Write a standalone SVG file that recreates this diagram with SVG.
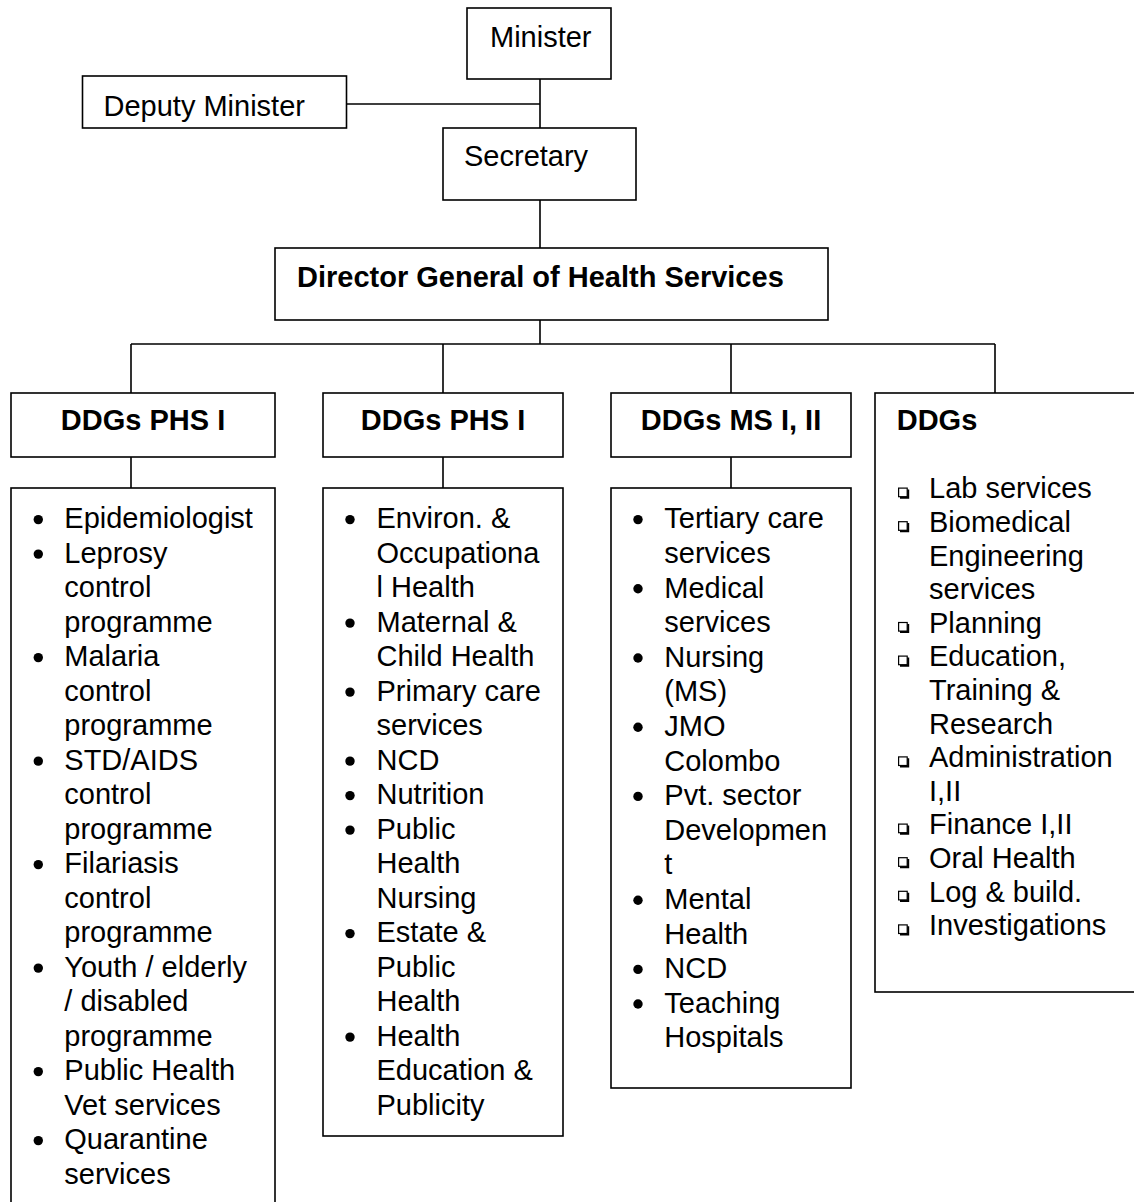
<svg xmlns="http://www.w3.org/2000/svg" xmlns:xlink="http://www.w3.org/1999/xlink" width="1134" height="1202" viewBox="0 0 1134 1202">
<style>
.box{fill:#fff;stroke:#000;stroke-width:1.6}
.conn{fill:none;stroke:#000;stroke-width:1.6}
.t{font-family:"Liberation Sans",Arial,sans-serif;font-size:29px;fill:#000}
.b{font-weight:bold}
</style>
<defs>
<circle id="dot" cx="0" cy="0" r="4.7" fill="#000"/>
<g id="sq"><rect x="0.6" y="0.6" width="8.6" height="8.6" fill="#fff" stroke="#000" stroke-width="1.2"/><polyline points="2,10.2 10.2,10.2 10.2,2" fill="none" stroke="#000" stroke-width="2"/></g>
</defs>
<rect width="1134" height="1202" fill="#fff"/>
<g id="connectors">
<path class="conn" d="M346 104H540M540 79V128M540 200V248M540 320V344M131 344H995M131 344V393M443 344V393M731 344V393M995 344V393M131 457V488M443 457V488M731 457V488"/>
</g>
<g id="minister"><rect class="box" x="467" y="8" width="144" height="71"/><text class="t" x="490" y="46.5">Minister</text></g>
<g id="deputy-minister"><rect class="box" x="82.5" y="76" width="264" height="52"/><text class="t" x="103.5" y="116">Deputy Minister</text></g>
<g id="secretary"><rect class="box" x="443" y="128" width="193" height="72"/><text class="t" x="464" y="166">Secretary</text></g>
<g id="dghs"><rect class="box" x="275" y="248" width="553" height="72"/><text class="t b" x="297" y="286.7">Director General of Health Services</text></g>
<g id="ddg1"><rect class="box" x="11" y="393" width="264" height="64"/><text class="t b" x="143" y="430" text-anchor="middle">DDGs PHS I</text></g>
<g id="ddg2"><rect class="box" x="323" y="393" width="240" height="64"/><text class="t b" x="443" y="430" text-anchor="middle">DDGs PHS I</text></g>
<g id="ddg3"><rect class="box" x="611" y="393" width="240" height="64"/><text class="t b" x="731" y="430" text-anchor="middle">DDGs MS I, II</text></g>
<g id="list1">
<rect class="box" x="11" y="488" width="264" height="740"/>
<use href="#dot" x="38.3" y="519.6"/><use href="#dot" x="38.3" y="554.1"/><use href="#dot" x="38.3" y="657.6"/><use href="#dot" x="38.3" y="761.1"/><use href="#dot" x="38.3" y="864.6"/><use href="#dot" x="38.3" y="968.1"/><use href="#dot" x="38.3" y="1071.6"/><use href="#dot" x="38.3" y="1140.6"/>
<text class="t">
<tspan x="64.3" y="528.3">Epidemiologist</tspan>
<tspan x="64.3" y="562.8">Leprosy</tspan>
<tspan x="64.3" y="597.3">control</tspan>
<tspan x="64.3" y="631.8">programme</tspan>
<tspan x="64.3" y="666.3">Malaria</tspan>
<tspan x="64.3" y="700.8">control</tspan>
<tspan x="64.3" y="735.3">programme</tspan>
<tspan x="64.3" y="769.8">STD/AIDS</tspan>
<tspan x="64.3" y="804.3">control</tspan>
<tspan x="64.3" y="838.8">programme</tspan>
<tspan x="64.3" y="873.3">Filariasis</tspan>
<tspan x="64.3" y="907.8">control</tspan>
<tspan x="64.3" y="942.3">programme</tspan>
<tspan x="64.3" y="976.8">Youth / elderly</tspan>
<tspan x="64.3" y="1011.3">/ disabled</tspan>
<tspan x="64.3" y="1045.8">programme</tspan>
<tspan x="64.3" y="1080.3">Public Health</tspan>
<tspan x="64.3" y="1114.8">Vet services</tspan>
<tspan x="64.3" y="1149.3">Quarantine</tspan>
<tspan x="64.3" y="1183.8">services</tspan>
</text>
</g>
<g id="list2">
<rect class="box" x="323" y="488" width="240" height="648"/>
<use href="#dot" x="350" y="519.6"/><use href="#dot" x="350" y="623.1"/><use href="#dot" x="350" y="692.1"/><use href="#dot" x="350" y="761.1"/><use href="#dot" x="350" y="795.6"/><use href="#dot" x="350" y="830.1"/><use href="#dot" x="350" y="933.6"/><use href="#dot" x="350" y="1037.1"/>
<text class="t">
<tspan x="376.5" y="528.3">Environ. &amp;</tspan>
<tspan x="376.5" y="562.8">Occupationa</tspan>
<tspan x="376.5" y="597.3">l Health</tspan>
<tspan x="376.5" y="631.8">Maternal &amp;</tspan>
<tspan x="376.5" y="666.3">Child Health</tspan>
<tspan x="376.5" y="700.8">Primary care</tspan>
<tspan x="376.5" y="735.3">services</tspan>
<tspan x="376.5" y="769.8">NCD</tspan>
<tspan x="376.5" y="804.3">Nutrition</tspan>
<tspan x="376.5" y="838.8">Public</tspan>
<tspan x="376.5" y="873.3">Health</tspan>
<tspan x="376.5" y="907.8">Nursing</tspan>
<tspan x="376.5" y="942.3">Estate &amp;</tspan>
<tspan x="376.5" y="976.8">Public</tspan>
<tspan x="376.5" y="1011.3">Health</tspan>
<tspan x="376.5" y="1045.8">Health</tspan>
<tspan x="376.5" y="1080.3">Education &amp;</tspan>
<tspan x="376.5" y="1114.8">Publicity</tspan>
</text>
</g>
<g id="list3">
<rect class="box" x="611" y="488" width="240" height="600"/>
<use href="#dot" x="638" y="519.6"/><use href="#dot" x="638" y="588.8"/><use href="#dot" x="638" y="658"/><use href="#dot" x="638" y="727.2"/><use href="#dot" x="638" y="796.4"/><use href="#dot" x="638" y="900.2"/><use href="#dot" x="638" y="969.4"/><use href="#dot" x="638" y="1004"/>
<text class="t">
<tspan x="664.3" y="528.3">Tertiary care</tspan>
<tspan x="664.3" y="562.9">services</tspan>
<tspan x="664.3" y="597.5">Medical</tspan>
<tspan x="664.3" y="632.1">services</tspan>
<tspan x="664.3" y="666.7">Nursing</tspan>
<tspan x="664.3" y="701.3">(MS)</tspan>
<tspan x="664.3" y="735.9">JMO</tspan>
<tspan x="664.3" y="770.5">Colombo</tspan>
<tspan x="664.3" y="805.1">Pvt. sector</tspan>
<tspan x="664.3" y="839.7">Developmen</tspan>
<tspan x="664.3" y="874.3">t</tspan>
<tspan x="664.3" y="908.9">Mental</tspan>
<tspan x="664.3" y="943.5">Health</tspan>
<tspan x="664.3" y="978.1">NCD</tspan>
<tspan x="664.3" y="1012.7">Teaching</tspan>
<tspan x="664.3" y="1047.3">Hospitals</tspan>
</text>
</g>
<g id="ddg4">
<rect class="box" x="875" y="393" width="280" height="599"/>
<text class="t b" x="896.7" y="430">DDGs</text>
<use href="#sq" x="898" y="487.5"/><use href="#sq" x="898" y="521.1"/><use href="#sq" x="898" y="621.9"/><use href="#sq" x="898" y="655.5"/><use href="#sq" x="898" y="756.3"/><use href="#sq" x="898" y="823.5"/><use href="#sq" x="898" y="857.1"/><use href="#sq" x="898" y="890.7"/><use href="#sq" x="898" y="924.3"/>
<text class="t">
<tspan x="929" y="498.3">Lab services</tspan>
<tspan x="929" y="531.9">Biomedical</tspan>
<tspan x="929" y="565.5">Engineering</tspan>
<tspan x="929" y="599.1">services</tspan>
<tspan x="929" y="632.7">Planning</tspan>
<tspan x="929" y="666.3">Education,</tspan>
<tspan x="929" y="699.9">Training &amp;</tspan>
<tspan x="929" y="733.5">Research</tspan>
<tspan x="929" y="767.1">Administration</tspan>
<tspan x="929" y="800.7">I,II</tspan>
<tspan x="929" y="834.3">Finance I,II</tspan>
<tspan x="929" y="867.9">Oral Health</tspan>
<tspan x="929" y="901.5">Log &amp; build.</tspan>
<tspan x="929" y="935.1">Investigations</tspan>
</text>
</g>
</svg>
